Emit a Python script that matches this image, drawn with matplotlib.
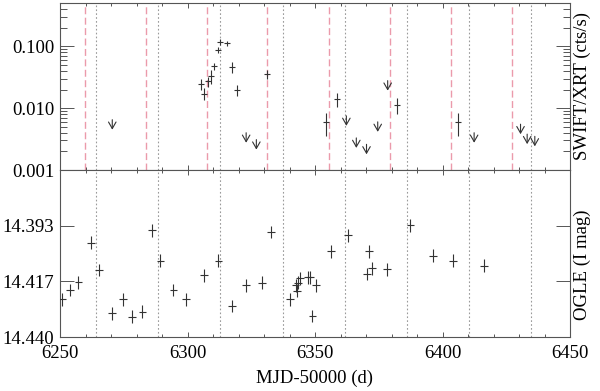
import numpy as np
import matplotlib
matplotlib.use("Agg")
import matplotlib.pyplot as plt
from matplotlib.ticker import FixedLocator, NullFormatter, LogLocator

plt.rcParams['font.family'] = ['Liberation Serif', 'DejaVu Serif']
plt.rcParams['font.size'] = 13.5

# SWIFT/XRT detections
xrt_t = [6305.3, 6306.6, 6308.1, 6309.2, 6310.3, 6312.1, 6312.9, 6315.4, 6317.3,
         6319.4, 6331.3, 6354.2, 6358.5, 6382.2, 6406.1]
xrt_rate = [0.0246, 0.0171, 0.0271, 0.0329, 0.0481, 0.0875, 0.116, 0.111, 0.0457,
            0.0199, 0.0354, 0.00596, 0.0140, 0.0113, 0.00596]
xrt_err = [0.0050, 0.0038, 0.0051, 0.0086, 0.0063, 0.0098, 0.013, 0.010, 0.0094,
           0.0041, 0.0059, 0.0024, 0.0034, 0.0034, 0.0024]

# SWIFT/XRT upper limits
ul_t = [6270.5, 6323.0, 6327.0, 6362.3, 6366.2, 6370.2, 6374.6, 6378.5,
        6412.4, 6430.6, 6433.2, 6436.2]
ul_rate = [0.0065, 0.0040, 0.0031, 0.0075, 0.0033, 0.0026, 0.0060, 0.0278,
           0.0040, 0.0055, 0.0038, 0.0035]

# OGLE I-band
ogle_t = [6250.9, 6253.9, 6257.2, 6262.2, 6265.3, 6270.3, 6274.6, 6278.3, 6282.3,
          6286.2, 6289.4, 6294.5, 6299.5, 6306.4, 6312.1, 6317.4, 6323.0, 6329.2,
          6332.8, 6340.2, 6342.4, 6342.9, 6343.3, 6344.1, 6347.2, 6348.1, 6349.0,
          6350.5, 6356.3, 6362.9, 6370.4, 6371.3, 6372.4, 6378.2, 6387.4, 6396.3,
          6404.0, 6416.4]
ogle_mag = [14.4242, 14.4203, 14.4171, 14.4005, 14.4119, 14.4301, 14.4242, 14.4315,
            14.4294, 14.3952, 14.4081, 14.4203, 14.4242, 14.4141, 14.4081, 14.4270,
            14.4183, 14.4172, 14.3960, 14.4242, 14.4183, 14.4206, 14.4172, 14.4154,
            14.4150, 14.4150, 14.4312, 14.4183, 14.4040, 14.3974, 14.4136, 14.4040,
            14.4112, 14.4116, 14.3931, 14.4060, 14.4080, 14.4102]
ogle_err = 0.0027

# orbital phase markers
dashed_t = [6259.8, 6283.6, 6307.6, 6331.3, 6355.3, 6379.3, 6403.4, 6427.2]
dotted_t = [6264.0, 6288.6, 6312.9, 6337.4, 6361.6, 6386.1, 6410.3, 6434.8]

ink = '#333333'
axc = '#555555'

fig = plt.figure(figsize=(6.0, 3.91), dpi=100)
ax1 = fig.add_axes([0.1, 0.5652, 0.85, 0.4271])
ax2 = fig.add_axes([0.1, 0.1381, 0.85, 0.4271], sharex=ax1)

for t in dashed_t:
    ax1.axvline(t, color='#eb9aab', ls=(0, (5, 2.5)), lw=1.0, zorder=1)
for ax in (ax1, ax2):
    for t in dotted_t:
        ax.axvline(t, color='#9a9a9a', ls=(0, (1.5, 2)), lw=0.8, zorder=1)

ax1.errorbar(xrt_t, xrt_rate, yerr=xrt_err, xerr=1.2, fmt='none',
             ecolor=ink, elinewidth=0.8, capsize=0, zorder=3)
for t, r in zip(ul_t, ul_rate):
    ax1.annotate('', xy=(t, r / 1.45), xytext=(t, r),
                 arrowprops=dict(arrowstyle='->,head_length=0.35,head_width=0.2',
                                 color=ink, lw=0.8, shrinkA=0, shrinkB=0))
ax1.set_yscale('log')
ax1.set_ylim(0.001, 0.5)
ax1.set_yticks([0.001, 0.01, 0.1])
ax1.set_yticklabels(['0.001', '0.010', '0.100'])
ax1.yaxis.set_minor_locator(LogLocator(base=10, subs=np.arange(2, 10)))
ax1.yaxis.set_minor_formatter(NullFormatter())
ax1.tick_params(labelbottom=False)

ax2.errorbar(ogle_t, ogle_mag, yerr=ogle_err, xerr=1.5, fmt='none',
             ecolor=ink, elinewidth=0.8, capsize=0, zorder=3)
ax2.set_ylim(14.44, 14.37)
ax2.set_yticks([14.37, 14.37 + 0.07 / 3, 14.37 + 0.14 / 3, 14.44])
ax2.set_yticklabels(['', '14.393', '14.417', '14.440'])
ax2.set_xlim(6250, 6450)
ax2.set_xticks([6250, 6300, 6350, 6400, 6450])
ax2.xaxis.set_minor_locator(FixedLocator(np.arange(6250, 6451, 10)))
ax2.set_xlabel('MJD-50000 (d)', labelpad=5)

for ax in (ax1, ax2):
    for s in ax.spines.values():
        s.set_color(axc)
        s.set_linewidth(0.8)
    ax.tick_params(which='both', direction='in', top=True, right=True,
                   color=axc, width=0.7)
    ax.tick_params(axis='y', which='major', length=10, pad=4)
    ax.tick_params(axis='y', which='minor', length=5)
    ax.tick_params(axis='x', which='major', length=3.5, pad=6)
    ax.tick_params(axis='x', which='minor', length=2)

fig.text(0.97, 1 - 86 / 391, 'SWIFT/XRT (cts/s)', rotation=90,
         ha='center', va='center')
fig.text(0.97, 1 - 265 / 391, 'OGLE (I mag)', rotation=90,
         ha='center', va='center')

fig.savefig('out.png', dpi=100)
